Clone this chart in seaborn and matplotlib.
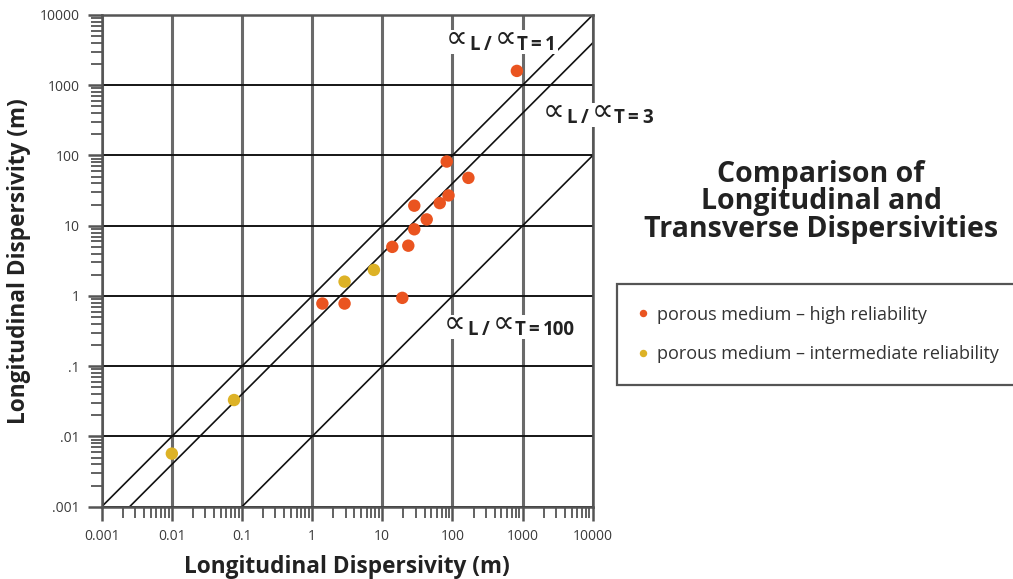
import numpy as np
import pandas as pd
import matplotlib
matplotlib.use('Agg')
import matplotlib.pyplot as plt
import matplotlib.ticker as mticker
from matplotlib.patches import Rectangle
import seaborn as sns

# data (m)
high_x = [830, 83, 169, 88, 66, 28.6, 43, 28.6, 13.9, 23.5, 1.4, 2.9, 19.3]
high_y = [1600, 82, 48, 27, 21, 19.3, 12.3, 8.9, 5.0, 5.2, 0.78, 0.78, 0.94]
mid_x = [2.9, 7.6, 0.077, 0.01]
mid_y = [1.6, 2.35, 0.033, 0.0057]

# ratio lines as drawn on the chart, and the ratio named in each label
ratios = [1, 2.5, 100]
ratio_names = ['1', '3', '100']
# label anchor in figure pixels: left edge, baseline
label_pos = [(446, 50), (543, 123), (444, 335)]

tick_vals = [0.001, 0.01, 0.1, 1, 10, 100, 1000, 10000]
xtick_labels = ['0.001', '0.01', '0.1', '1', '10', '100', '1000', '10000']
ytick_labels = ['.001', '.01', '.1', '1', '10', '100', '1000', '10000']

cat_high = 'porous medium \u2013 high reliability'
cat_mid = 'porous medium \u2013 intermediate reliability'
colors = {cat_high: '#EA5420', cat_mid: '#DDB226'}

df = pd.DataFrame({
    'x': high_x + mid_x,
    'y': high_y + mid_y,
    'rel': [cat_high] * len(high_x) + [cat_mid] * len(mid_x),
})

sns.set_style('white')
plt.rcParams['font.family'] = ['Open Sans', 'DejaVu Sans']

W, H = 1013, 579
fig = plt.figure(figsize=(W / 100, H / 100), dpi=100)
ax = fig.add_axes([101.7 / W, 1 - 506.7 / H, 491 / W, 491.7 / H])

ax.set_xscale('log')
ax.set_yscale('log')
ax.set_xlim(0.001, 10000)
ax.set_ylim(0.001, 10000)

ax.xaxis.grid(True, which='major', color='#6a6a6a', lw=2.2, zorder=0)
ax.yaxis.grid(True, which='major', color='#151515', lw=1.4, zorder=0)
ax.set_axisbelow(True)

xs = np.array([0.001, 10000])
for r in ratios:
    ax.plot(xs, xs / r, color='#111111', lw=1.2, zorder=1)

sns.scatterplot(data=df, x='x', y='y', hue='rel', palette=colors, s=80,
                edgecolor='none', ax=ax, zorder=3)

ax.set_xticks(tick_vals)
ax.set_xticklabels(xtick_labels)
ax.set_yticks(tick_vals)
ax.set_yticklabels(ytick_labels)
ax.xaxis.set_minor_locator(mticker.LogLocator(base=10, subs=np.arange(2, 10), numticks=20))
ax.yaxis.set_minor_locator(mticker.LogLocator(base=10, subs=np.arange(2, 10), numticks=20))
ax.xaxis.set_minor_formatter(mticker.NullFormatter())
ax.yaxis.set_minor_formatter(mticker.NullFormatter())
ax.tick_params(which='both', bottom=True, left=True, direction='out',
               color='#555555')
ax.tick_params(which='major', length=10, width=1.8, labelsize=10,
               labelcolor='#3a3a3a', pad=6)
ax.tick_params(which='minor', length=8, width=1.3)
for sp in ax.spines.values():
    sp.set_color('#555555')
    sp.set_linewidth(1.8)

ax.set_xlabel('Longitudinal Dispersivity (m)', fontsize=16.3, fontweight='bold',
              color='#222222', labelpad=8)
ax.set_ylabel('Longitudinal Dispersivity (m)', fontsize=16.3, fontweight='bold',
              color='#222222', labelpad=6)

# ratio labels built from pieces so the proportional sign stays large
renderer = fig.canvas.get_renderer()


def ratio_label(x0, base, name):
    sign = dict(fontsize=22, family='DejaVu Sans')
    bold = dict(fontsize=13.5, fontweight='bold')
    pieces = [('\u221d', sign, 3, 2),
              ('L', bold, 0, 4),
              ('/', bold, 0, 3),
              ('\u221d', sign, 3, 0),
              ('T', bold, 0, 3),
              ('=', bold, 0, 4),
              (name, bold, 0, 0)]
    x = x0
    boxes = []
    for txt, props, dy, gap in pieces:
        t = fig.text(x / W, 1 - (base - dy) / H, txt, ha='left', va='baseline',
                     color='#222222', zorder=5, **props)
        bb = t.get_window_extent(renderer)
        boxes.append(bb)
        x = bb.x1 + gap
    x_lo = min(b.x0 for b in boxes) - 2
    x_hi = max(b.x1 for b in boxes) + 2
    y_lo = (H - base) - 4
    y_hi = (H - base) + 20
    fig.patches.append(Rectangle((x_lo / W, y_lo / H), (x_hi - x_lo) / W,
                                 (y_hi - y_lo) / H, transform=fig.transFigure,
                                 facecolor='white', edgecolor='none', zorder=4))


for name, (px, py) in zip(ratio_names, label_pos):
    ratio_label(px, py, name)

fig.text(821 / W, 1 - 202 / H,
         'Comparison of\nLongitudinal and\nTransverse Dispersivities',
         fontsize=20.5, fontweight='bold', ha='center', va='center',
         color='#222222', linespacing=0.92)

leg = ax.get_legend()
handles = leg.legend_handles
labels = [t.get_text() for t in leg.get_texts()]
leg.remove()
flg = fig.legend(handles, labels, loc='upper left',
                 bbox_to_anchor=(617 / W, 1 - 387 / H, 430 / W, 103 / H),
                 mode='expand', frameon=True, fancybox=False, framealpha=1,
                 fontsize=13, markerscale=0.6, handletextpad=0.52,
                 labelspacing=1.2, borderpad=1.2, handlelength=0.5,
                 borderaxespad=0)
flg.get_frame().set_edgecolor('#555555')
flg.get_frame().set_linewidth(1.6)
for t in flg.get_texts():
    t.set_color('#333333')

fig.savefig('out.png', dpi=100)
